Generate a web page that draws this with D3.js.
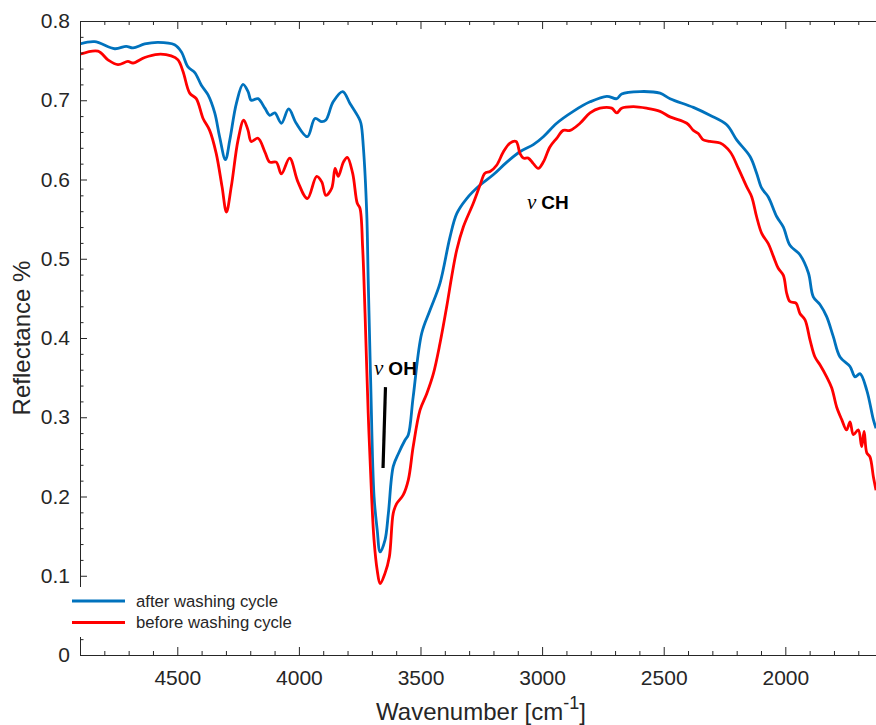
<!DOCTYPE html>
<html>
<head>
<meta charset="utf-8">
<script src="https://cdn.jsdelivr.net/npm/d3@7"></script>
<style>
  html, body { margin: 0; padding: 0; background: #fff; }
  svg { display: block; }
</style>
</head>
<body>
<svg id="chart" width="876" height="725"></svg>
<script>
// ---- data ----
const afterWn = [4900,4840,4757,4710,4682,4634,4579,4511,4483,4456,4428,4401,4374,4346,4326,4302,4284,4257,4230,4209,4196,4168,4140,4120,4099,4072,4042,4011,3965,3934,3906,3889,3859,3820,3790,3756,3745,3735,3721,3715,3705,3691,3678,3666,3646,3632,3612,3591,3564,3550,3530,3495,3461,3420,3379,3351,3310,3255,3201,3145,3091,3036,2995,2940,2872,2803,2734,2693,2673,2597,2515,2474,2378,2310,2241,2200,2145,2118,2097,2070,2035,2008,1981,1940,1905,1885,1857,1830,1803,1775,1734,1713,1693,1665,1638,1627];
const afterR  = [0.771,0.774,0.765,0.768,0.766,0.771,0.773,0.770,0.761,0.742,0.735,0.719,0.707,0.684,0.654,0.625,0.650,0.696,0.720,0.711,0.700,0.702,0.690,0.681,0.684,0.671,0.689,0.671,0.654,0.677,0.673,0.675,0.698,0.711,0.696,0.679,0.671,0.641,0.557,0.473,0.347,0.200,0.158,0.130,0.145,0.179,0.238,0.254,0.271,0.278,0.326,0.406,0.435,0.469,0.527,0.557,0.576,0.593,0.606,0.622,0.635,0.644,0.654,0.671,0.686,0.698,0.705,0.702,0.708,0.711,0.709,0.702,0.691,0.681,0.669,0.650,0.629,0.608,0.589,0.578,0.553,0.540,0.517,0.505,0.482,0.452,0.442,0.427,0.402,0.376,0.364,0.351,0.355,0.334,0.297,0.286];

const beforeWn = [4900,4826,4785,4744,4703,4682,4634,4579,4525,4497,4476,4449,4422,4394,4367,4340,4316,4298,4278,4250,4227,4209,4196,4168,4140,4120,4093,4072,4038,4004,3965,3927,3906,3889,3865,3851,3838,3817,3801,3779,3760,3749,3738,3728,3715,3701,3691,3678,3666,3646,3628,3612,3598,3571,3550,3530,3502,3474,3447,3420,3392,3372,3351,3324,3283,3255,3235,3214,3187,3159,3132,3107,3091,3077,3057,3036,3016,2995,2968,2940,2913,2885,2844,2803,2762,2714,2693,2673,2625,2570,2515,2474,2405,2378,2358,2337,2310,2268,2227,2193,2159,2138,2118,2097,2070,2049,2029,2008,1994,1981,1956,1940,1919,1898,1878,1857,1830,1809,1789,1768,1748,1734,1720,1700,1686,1676,1665,1652,1638,1627];
const beforeR  = [0.758,0.762,0.751,0.745,0.749,0.747,0.754,0.758,0.756,0.751,0.736,0.709,0.702,0.677,0.662,0.633,0.591,0.559,0.591,0.650,0.675,0.662,0.648,0.652,0.635,0.622,0.622,0.607,0.627,0.597,0.576,0.604,0.597,0.580,0.589,0.614,0.604,0.622,0.628,0.608,0.570,0.564,0.515,0.431,0.305,0.200,0.145,0.107,0.090,0.103,0.124,0.179,0.191,0.202,0.221,0.263,0.309,0.330,0.355,0.393,0.440,0.477,0.511,0.540,0.570,0.593,0.608,0.610,0.618,0.635,0.646,0.648,0.633,0.627,0.627,0.620,0.614,0.622,0.641,0.652,0.662,0.662,0.671,0.684,0.690,0.690,0.684,0.690,0.692,0.690,0.686,0.679,0.671,0.662,0.658,0.650,0.648,0.646,0.635,0.614,0.591,0.578,0.553,0.532,0.519,0.503,0.488,0.479,0.456,0.446,0.444,0.431,0.423,0.397,0.376,0.366,0.351,0.337,0.313,0.297,0.284,0.294,0.278,0.284,0.263,0.282,0.255,0.250,0.225,0.208];

const seriesNames  = ["after washing cycle", "before washing cycle"];
const seriesColors = ["#0072BD", "#FF0000"];

const xTickValues = [4500, 4000, 3500, 3000, 2500, 2000];
const yTickValues = [0, 0.1, 0.2, 0.3, 0.4, 0.5, 0.6, 0.7, 0.8];

// annotations in data coordinates
const annotations = [
  { wn: 3691, r: 0.353, label: "OH" },
  { wn: 3062, r: 0.563, label: "CH" }
];
const ohMarker = [{ wn: 3644, r: 0.338 }, { wn: 3654, r: 0.236 }];

// ---- layout ----
const svg = d3.select("#chart");
const mLeft = 80, mTop = 21, mBottom = 655;
const xRight = 882.6;     // plot continues beyond the picture edge
const axisColor = "#262626";
const fontFam = "'Liberation Sans', Arial, Helvetica, sans-serif";

const x = d3.scaleLinear().domain([4900, 1600]).range([mLeft, xRight]);
const y = d3.scaleLinear().domain([0, 0.8]).range([mBottom, mTop]);

svg.append("defs").append("clipPath").attr("id", "plotclip")
  .append("rect").attr("x", mLeft).attr("y", mTop).attr("width", xRight - mLeft).attr("height", mBottom - mTop);

// ---- data lines ----
const line = d3.line()
  .x(d => x(d[0])).y(d => y(d[1]))
  .curve(d3.curveCatmullRom.alpha(0.5));

const series = [
  d3.zip(afterWn, afterR),
  d3.zip(beforeWn, beforeR)
];

const g = svg.append("g").attr("clip-path", "url(#plotclip)");
series.forEach((s, i) => {
  g.append("path").datum(s)
    .attr("d", line)
    .attr("fill", "none")
    .attr("stroke", seriesColors[i])
    .attr("stroke-width", 2.8)
    .attr("stroke-linejoin", "round");
});

// ---- axes ----
const minorX = d3.range(1700, 4901, 100).filter(v => !xTickValues.includes(v));
const minorY = d3.range(0, 0.801, 0.02).map(v => +v.toFixed(2)).filter(v => !yTickValues.some(t => Math.abs(t - v) < 1e-9));

function styleAxis(sel) {
  sel.select(".domain").attr("stroke", axisColor).attr("stroke-width", 1);
  sel.selectAll(".tick line").attr("stroke", axisColor).attr("stroke-width", 1);
  sel.selectAll(".tick text").attr("fill", axisColor).attr("font-family", fontFam).attr("font-size", 21);
}

// bottom axis (ticks inward)
const xAxisB = svg.append("g").attr("transform", `translate(0,${mBottom})`)
  .call(d3.axisBottom(x).tickValues(xTickValues).tickSize(-8).tickSizeOuter(0).tickFormat(d3.format("d")));
styleAxis(xAxisB);
xAxisB.selectAll(".tick text").attr("dy", "0.71em").attr("y", 15);
svg.append("g").attr("transform", `translate(0,${mBottom})`)
  .call(d3.axisBottom(x).tickValues(minorX).tickSize(-4).tickSizeOuter(0).tickFormat(""))
  .call(s => { s.select(".domain").remove(); s.selectAll("line").attr("stroke", axisColor); });

// top axis
const xAxisT = svg.append("g").attr("transform", `translate(0,${mTop})`)
  .call(d3.axisTop(x).tickValues(xTickValues).tickSize(-8).tickSizeOuter(0).tickFormat(""));
styleAxis(xAxisT);
svg.append("g").attr("transform", `translate(0,${mTop})`)
  .call(d3.axisTop(x).tickValues(minorX).tickSize(-4).tickSizeOuter(0).tickFormat(""))
  .call(s => { s.select(".domain").remove(); s.selectAll("line").attr("stroke", axisColor); });

// left axis
const yAxisL = svg.append("g").attr("transform", `translate(${mLeft},0)`)
  .call(d3.axisLeft(y).tickValues(yTickValues).tickSize(-7).tickSizeOuter(0)
    .tickFormat(d => d === 0 ? "0" : d3.format(".1f")(d)));
styleAxis(yAxisL);
yAxisL.selectAll(".tick text").attr("x", -10);
svg.append("g").attr("transform", `translate(${mLeft},0)`)
  .call(d3.axisLeft(y).tickValues(minorY).tickSize(-3.5).tickSizeOuter(0).tickFormat(""))
  .call(s => { s.select(".domain").remove(); s.selectAll("line").attr("stroke", axisColor); });

// axis titles
const xt = svg.append("text")
  .attr("x", 481).attr("y", 720)
  .attr("text-anchor", "middle")
  .attr("font-family", fontFam).attr("font-size", 24).attr("fill", axisColor);
xt.append("tspan").text("Wavenumber [cm");
xt.append("tspan").attr("font-size", 18).attr("dy", -11).text("-1");
xt.append("tspan").attr("dy", 11).text("]");

svg.append("text")
  .attr("transform", `translate(30,338) rotate(-90)`)
  .attr("text-anchor", "middle")
  .attr("font-family", fontFam).attr("font-size", 24).attr("fill", axisColor)
  .text("Reflectance %");

// ---- annotations ----
annotations.forEach(a => {
  const t = svg.append("text")
    .attr("x", x(a.wn)).attr("y", y(a.r))
    .attr("fill", "#000");
  t.append("tspan").attr("font-family", "'Liberation Serif', 'Times New Roman', serif")
    .attr("font-style", "italic").attr("font-size", 21).text("\u03BD");
  t.append("tspan").attr("font-family", fontFam).attr("font-weight", "bold")
    .attr("font-size", 19).attr("dx", 5).text(a.label);
});
svg.append("line")
  .attr("x1", x(ohMarker[0].wn)).attr("y1", y(ohMarker[0].r))
  .attr("x2", x(ohMarker[1].wn)).attr("y2", y(ohMarker[1].r))
  .attr("stroke", "#000").attr("stroke-width", 3.2);

// ---- legend ----
const lg = svg.append("g");
lg.append("rect").attr("x", 66).attr("y", 587).attr("width", 236).attr("height", 50).attr("fill", "#fff");
seriesNames.forEach((name, i) => {
  const yy = 601 + i * 21.5;
  lg.append("line").attr("x1", 72).attr("x2", 125).attr("y1", yy).attr("y2", yy)
    .attr("stroke", seriesColors[i]).attr("stroke-width", 2.8);
  lg.append("text").attr("x", 136).attr("y", yy + 5.5)
    .attr("font-family", fontFam).attr("font-size", 16.7).attr("fill", axisColor)
    .text(name);
});
</script>
</body>
</html>
